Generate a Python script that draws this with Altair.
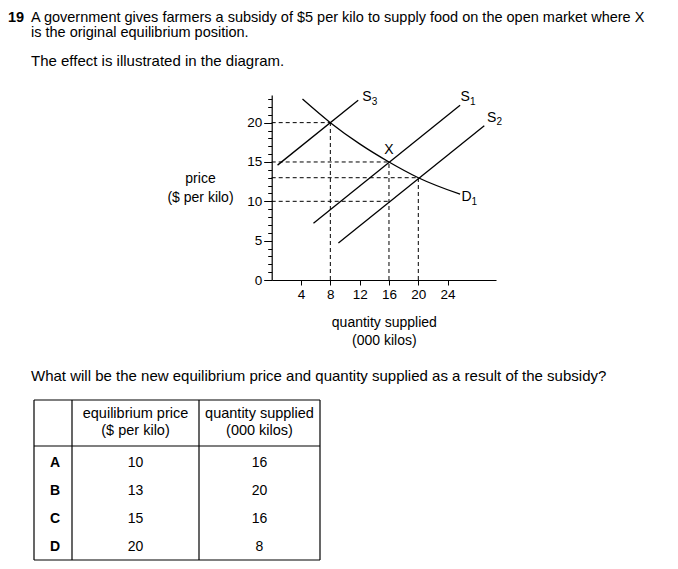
import altair as alt
import pandas as pd

FONT = "Liberation Sans"

# ---------------- text ----------------
question_no = "19"
intro_lines = [
    "A government gives farmers a subsidy of $5 per kilo to supply food on the open market where X",
    "is the original equilibrium position.",
]
intro_2 = "The effect is illustrated in the diagram."
question = "What will be the new equilibrium price and quantity supplied as a result of the subsidy?"

# ---------------- diagram data ----------------
s1_q = [5.7, 25.7]
s1_p = [7.2, 22.2]
s2_q = [9.1, 29.0]
s2_p = [4.7, 19.6]
s3_q = [0.8, 11.8]
s3_p = [14.6, 22.85]
d1_q = [4.2, 8, 12, 16, 20, 25.7]
d1_p = [23.0, 20, 17.3, 15, 13, 10.9]

h_guide_price = [20, 15, 13, 10]
h_guide_qty = [8, 16, 20, 16]
v_guide_qty = [8, 16, 20]
v_guide_price = [20, 15, 13]

label_letter = ["S", "S", "S", "D", "X"]
label_sub = ["3", "1", "2", "1", ""]
label_q = [13.0, 26.4, 30.0, 26.6, 16.0]
label_p = [23.25, 23.25, 20.6, 10.5, 16.5]

x_ticks = [4, 8, 12, 16, 20, 24]
y_ticks = list(range(0, 24))

# ---------------- table data ----------------
options = ["A", "B", "C", "D"]
eq_price = [10, 13, 15, 20]
qty_supplied = [16, 20, 16, 8]
price_header = ["equilibrium price", "($ per kilo)"]
qty_header = ["quantity supplied", "(000 kilos)"]

# ---------------- diagram ----------------
xs = alt.Scale(domain=[0, 30.6], range=[263.7, 488.0], nice=False, zero=False)
ys = alt.Scale(domain=[0, 23.5], range=[272, 87.1], nice=False, zero=False)

x_axis = alt.Axis(
    values=x_ticks, offset=-281, tickSize=5, tickColor="black", tickWidth=1,
    domainColor="black", domainWidth=1.2, grid=False,
    labelFont=FONT, labelFontSize=13.5, labelColor="black", labelPadding=2,
    title=["quantity supplied", "(000 kilos)"], titleFont=FONT, titleFontSize=14,
    titleFontWeight="normal", titleColor="black", titleBaseline="middle",
    titleY=42, titleLineHeight=18,
)
y_axis = alt.Axis(
    values=y_ticks, offset=-263.7,
    tickSize={"condition": {"test": "datum.value % 5 === 0", "value": 8}, "value": 4},
    tickColor="black", tickWidth=1,
    domainColor="black", domainWidth=1.2, grid=False,
    labelExpr="datum.value % 5 === 0 ? datum.label : ''",
    labelFont=FONT, labelFontSize=13.5, labelColor="black", labelPadding=2,
    title=["price", "($ per kilo)"], titleFont=FONT, titleFontSize=14,
    titleFontWeight="normal", titleColor="black", titleAngle=0,
    titleAlign="center", titleBaseline="middle", titleX=-71.7, titleY=170,
    titleLineHeight=19,
)
X = alt.X("q:Q", scale=xs, axis=x_axis)
Y = alt.Y("p:Q", scale=ys, axis=y_axis)

supply = pd.DataFrame({
    "series": ["S1"] * 2 + ["S2"] * 2 + ["S3"] * 2,
    "q": s1_q + s2_q + s3_q,
    "p": s1_p + s2_p + s3_p,
})
demand = pd.DataFrame({"q": d1_q, "p": d1_p})

hguides = pd.DataFrame({"q": [0] * len(h_guide_price), "q2": h_guide_qty, "p": h_guide_price})
vguides = pd.DataFrame({"q": v_guide_qty, "p": [0] * len(v_guide_qty), "p2": v_guide_price})
labels = pd.DataFrame({"q": label_q, "p": label_p, "letter": label_letter, "sub": label_sub})

h_layer = alt.Chart(hguides).mark_rule(color="black", strokeWidth=1, strokeDash=[4, 3]).encode(
    x=X, x2="q2:Q", y=Y)
v_layer = alt.Chart(vguides).mark_rule(color="black", strokeWidth=1, strokeDash=[4, 3]).encode(
    x=X, y=Y, y2="p2:Q")
s_layer = alt.Chart(supply).mark_line(color="black", strokeWidth=1.3).encode(
    x=X, y=Y, detail="series:N")
d_layer = alt.Chart(demand).mark_line(color="black", strokeWidth=1.3, interpolate="monotone").encode(
    x=X, y=Y)
lab_layer = alt.Chart(labels).mark_text(font=FONT, fontSize=14, color="black",
                                        align="center", baseline="middle").encode(
    x=X, y=Y, text="letter:N")
sub_layer = alt.Chart(labels).mark_text(font=FONT, fontSize=10, color="black",
                                        align="left", baseline="middle", dx=4.8, dy=4.5).encode(
    x=X, y=Y, text="sub:N")

diagram = alt.layer(h_layer, v_layer, s_layer, d_layer, lab_layer, sub_layer)


# ---------------- free text ----------------
def text_line(txt, x, y, size=15, weight="normal", align="left", baseline="alphabetic"):
    return alt.Chart(pd.DataFrame({"t": [txt]})).mark_text(
        font=FONT, fontSize=size, fontWeight=weight, color="black",
        align=align, baseline=baseline).encode(
        x=alt.value(x), y=alt.value(y), text="t:N")


texts = [
    text_line(question_no, 0, 13.5, size=14.5, weight="bold"),
    text_line(intro_lines[0], 23, 13.5, size=14.5),
    text_line(intro_lines[1], 23, 28.5, size=14.5),
    text_line(intro_2, 23, 58),
    text_line(question, 23, 373),
    text_line(price_header[0], 127.5, 406, size=14.5, align="center", baseline="middle"),
    text_line(price_header[1], 127.5, 423, size=14.5, align="center", baseline="middle"),
    text_line(qty_header[0], 251.5, 406, size=14.5, align="center", baseline="middle"),
    text_line(qty_header[1], 251.5, 423, size=14.5, align="center", baseline="middle"),
]

# ---------------- table ----------------
table_df = pd.DataFrame({"opt": options, "price": eq_price, "qty": qty_supplied})
TY = alt.Y("opt:N", scale=alt.Scale(type="point", domain=options, range=[455, 539], padding=0), axis=None)
tbase = alt.Chart(table_df)
t_letters = tbase.mark_text(font=FONT, fontSize=14, fontWeight="bold", color="black",
                            align="center", baseline="middle").encode(
    x=alt.value(47), y=TY, text="opt:N")
t_price = tbase.mark_text(font=FONT, fontSize=14, color="black",
                          align="center", baseline="middle").encode(
    x=alt.value(127.5), y=TY, text="price:Q")
t_qty = tbase.mark_text(font=FONT, fontSize=14, color="black",
                        align="center", baseline="middle").encode(
    x=alt.value(251.5), y=TY, text="qty:Q")
table = alt.layer(t_letters, t_price, t_qty)

grid_rules = []
one = pd.DataFrame({"k": [0]})
for yy in [392, 438, 552]:
    grid_rules.append(alt.Chart(one).mark_rule(color="black", strokeWidth=1.2).encode(
        x=alt.value(26), x2=alt.value(312), y=alt.value(yy)))
for xx in [26, 64, 191, 312]:
    grid_rules.append(alt.Chart(one).mark_rule(color="black", strokeWidth=1.2).encode(
        x=alt.value(xx), y=alt.value(392), y2=alt.value(552)))

chart = alt.layer(diagram, table, *texts, *grid_rules).resolve_scale(
    x="independent", y="independent"
).properties(
    width=662, height=553, autosize=alt.AutoSizeParams(type="none"), padding=0,
    background="white"
).configure_view(stroke=None, strokeWidth=0)

chart.save("out.html", embed_options={"renderer": "svg", "actions": False})
